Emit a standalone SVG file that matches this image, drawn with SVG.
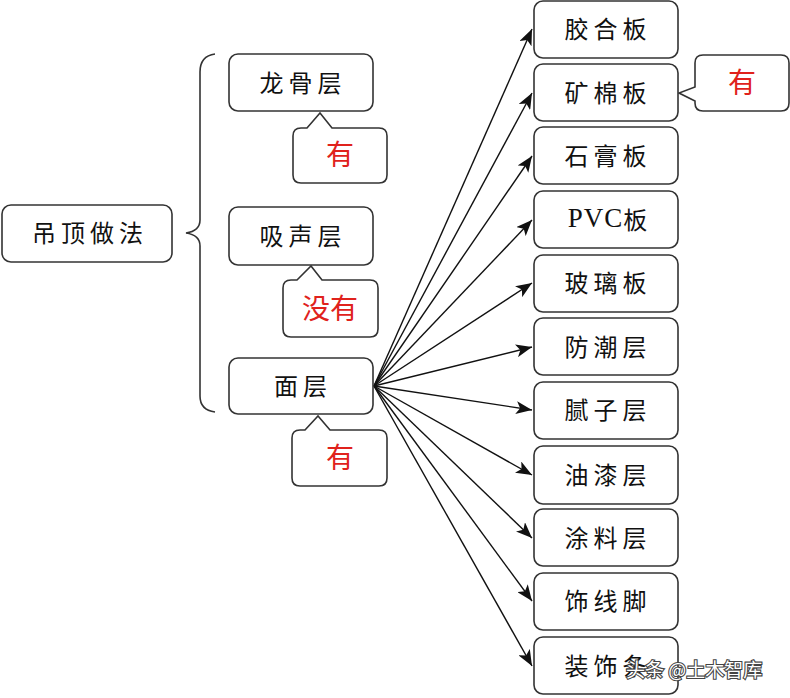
<svg xmlns="http://www.w3.org/2000/svg" width="790" height="698" viewBox="0 0 790 698">
<style>
.box{fill:#fff;stroke:#333;stroke-width:1.6}
.t{font-family:"Noto Sans CJK SC","Liberation Serif",serif;font-size:24px;fill:#111;text-anchor:middle;dominant-baseline:central;letter-spacing:5px;transform:translateY(-2px)}
.r{font-family:"Noto Sans CJK SC",sans-serif;font-size:28px;fill:#e0221c;text-anchor:middle;dominant-baseline:central;transform:translateY(-2px)}
.ln{stroke:#111;stroke-width:1.4;fill:none;marker-end:url(#ah)}
.wm{font-family:"Noto Sans CJK SC",sans-serif;font-size:19px;fill:#fff;stroke:#444;stroke-width:2.2;paint-order:stroke;dominant-baseline:central}
</style>
<defs>
<marker id="ah" markerUnits="userSpaceOnUse" markerWidth="17" markerHeight="13" refX="16" refY="6.5" orient="auto">
<path d="M0,0 L16,6.5 L0,13 L4,6.5 Z" fill="#111"/>
</marker>
</defs>
<rect width="790" height="698" fill="#fff"/>
<g id="brace"><path d="M215,54 Q200,56 200,72 L200,220 Q200,231 186,233 Q200,235 200,246 L200,396 Q200,410 215,412" fill="none" stroke="#333" stroke-width="1.6"/></g>
<g id="connectors">
<line class="ln" x1="374" y1="386" x2="532" y2="29"/>
<line class="ln" x1="374" y1="386" x2="532" y2="93"/>
<line class="ln" x1="374" y1="386" x2="532" y2="156"/>
<line class="ln" x1="374" y1="386" x2="532" y2="220"/>
<line class="ln" x1="374" y1="386" x2="532" y2="283"/>
<line class="ln" x1="374" y1="386" x2="532" y2="347"/>
<line class="ln" x1="374" y1="386" x2="532" y2="410"/>
<line class="ln" x1="374" y1="386" x2="532" y2="475"/>
<line class="ln" x1="374" y1="386" x2="532" y2="538"/>
<line class="ln" x1="374" y1="386" x2="532" y2="601"/>
<line class="ln" x1="374" y1="386" x2="532" y2="666"/>
</g>
<g id="root"><rect class="box" x="2" y="205" width="170" height="57" rx="9"/><text class="t" x="90" y="233">吊顶做法</text></g>
<g id="longgu"><rect class="box" x="229" y="54" width="144" height="57" rx="9"/><text class="t" x="303" y="83">龙骨层</text></g>
<g id="xisheng"><rect class="box" x="229" y="207" width="144" height="58" rx="9"/><text class="t" x="303" y="236">吸声层</text></g>
<g id="mian"><rect class="box" x="229" y="358" width="144" height="56" rx="9"/><text class="t" x="303" y="386">面层</text></g>
<g id="c1"><path class="box" d="M301,128 L307,128 L320,113 L332,128 L379,128 Q387,128 387,136 L387,175 Q387,183 379,183 L301,183 Q293,183 293,175 L293,136 Q293,128 301,128 Z"/><text class="r" x="340" y="155">有</text></g>
<g id="c2"><path class="box" d="M291,280 L297,280 L311,266 L322,280 L370,280 Q378,280 378,288 L378,329 Q378,337 370,337 L291,337 Q283,337 283,329 L283,288 Q283,280 291,280 Z"/><text class="r" x="330" y="309">没有</text></g>
<g id="c3"><path class="box" d="M300,430 L305,430 L318,416 L330,430 L379,430 Q387,430 387,438 L387,478 Q387,486 379,486 L300,486 Q292,486 292,478 L292,438 Q292,430 300,430 Z"/><text class="r" x="340" y="458">有</text></g>
<g id="c4"><path class="box" d="M703,55 L781,55 Q789,55 789,63 L789,103 Q789,111 781,111 L703,111 Q695,111 695,103 L695,101 L679,93 L695,87 L695,63 Q695,55 703,55 Z"/><text class="r" x="742" y="83">有</text></g>
<g id="n1"><rect class="box" x="534" y="1" width="144" height="57" rx="9"/><text class="t" x="608" y="29">胶合板</text></g>
<g id="n2"><rect class="box" x="534" y="64" width="144" height="57" rx="9"/><text class="t" x="608" y="93">矿棉板</text></g>
<g id="n3"><rect class="box" x="534" y="127" width="144" height="57" rx="9"/><text class="t" x="608" y="156">石膏板</text></g>
<g id="n4"><rect class="box" x="534" y="191" width="144" height="57" rx="9"/><text class="t" x="608" y="220" style="letter-spacing:1px"><tspan style="font-family:'Liberation Serif',serif;font-size:27px">PVC</tspan>板</text></g>
<g id="n5"><rect class="box" x="534" y="255" width="144" height="57" rx="9"/><text class="t" x="608" y="283">玻璃板</text></g>
<g id="n6"><rect class="box" x="534" y="318" width="144" height="57" rx="9"/><text class="t" x="608" y="347">防潮层</text></g>
<g id="n7"><rect class="box" x="534" y="382" width="144" height="57" rx="9"/><text class="t" x="608" y="410">腻子层</text></g>
<g id="n8"><rect class="box" x="534" y="446" width="144" height="58" rx="9"/><text class="t" x="608" y="475">油漆层</text></g>
<g id="n9"><rect class="box" x="534" y="509" width="144" height="57" rx="9"/><text class="t" x="608" y="538">涂料层</text></g>
<g id="n10"><rect class="box" x="534" y="573" width="144" height="57" rx="9"/><text class="t" x="608" y="601">饰线脚</text></g>
<g id="n11"><rect class="box" x="534" y="637" width="144" height="57" rx="9"/><text class="t" x="608" y="666">装饰条</text></g>
<text class="wm" x="626" y="668">头条 @土木智库</text>
</svg>
